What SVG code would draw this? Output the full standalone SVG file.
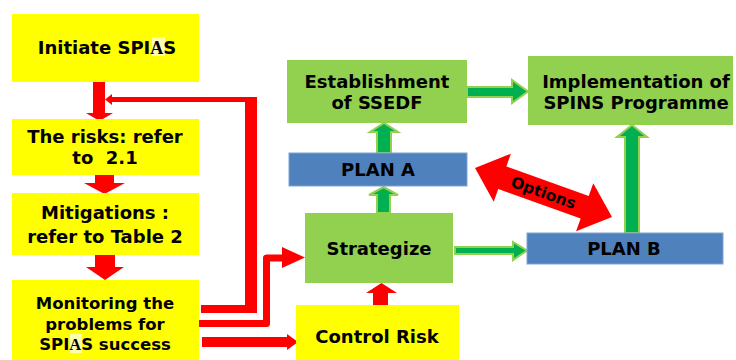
<svg xmlns="http://www.w3.org/2000/svg" width="736" height="360" viewBox="0 0 736 360">
  <style>
    text { font-family: "DejaVu Sans", Verdana, sans-serif; font-weight: bold; fill: #000; text-anchor: middle; }
    .yellow { fill: #FFFF00; }
    .green { fill: #92D050; }
    .blue { fill: #4F81BD; stroke: #7FA3D4; stroke-width: 1; }
    .red { fill: #FF0000; }
    .garrow { fill: #00B050; stroke: #92D050; stroke-width: 2; stroke-linejoin: miter; }
    .rline { fill: none; stroke: #FF0000; stroke-linejoin: round; }
    .serifA { font-family: "Liberation Serif", "Times New Roman", serif; font-weight: bold; }
    .hl { fill: #FFFFB0; }
  </style>

  <rect width="736" height="360" fill="#FFFFFF"/>

  <!-- connectors -->
  <g id="connectors">
    <!-- red flow arrows, left column -->
    <polygon class="red" points="93,81 105,81 105,113 113,113 99.5,121 86,113 93,113"/>
    <polygon class="red" points="95,175 114,175 114,183 125,183 104.5,194 84,183 95,183"/>
    <polygon class="red" points="95,255 115,255 115,267 124,267 105,280 86,267 95,267"/>

    <!-- feedback loop: Monitoring back to the first arrow -->
    <polygon class="red" points="201,305 245,305 245,102 112,102 112,105 105,99.5 112,94 112,97 257,97 257,313 201,313"/>

    <!-- Monitoring to Strategize -->
    <path class="rline" stroke-width="7" d="M198,323.5 H266.5 V258 H284"/>
    <polygon class="red" points="282,247 305,257.5 282,268"/>

    <!-- Monitoring to Control Risk -->
    <polygon class="red" points="202,337 287,337 287,334 298,342 287,350 287,347 202,347"/>

    <!-- Control Risk to Strategize -->
    <polygon class="red" points="373,305 388,305 388,293 397,293 381.5,283 366,293 373,293"/>

    <!-- green flow arrows -->
    <polygon class="garrow" points="377,213 390,213 390,195 398,195 383.5,187 369,195 377,195"/>
    <polygon class="garrow" points="377,153 391,153 391,132 398,132 384,123 370,132 377,132"/>
    <polygon class="garrow" points="467,87 512,87 512,80 528,91.5 512,103 512,97 467,97"/>
    <polygon class="garrow" points="455,247 513,247 513,242 527,250.5 513,260 513,254 455,254"/>
    <polygon class="garrow" points="625,233 639,233 639,137 647,137 632,125 617,137 625,137"/>

    <!-- Options double arrow -->
    <g transform="translate(543.5,192.5) rotate(19.7)">
      <polygon class="red" points="-72.75,0 -43.75,-25.5 -43.75,-12 43.75,-12 43.75,-25.5 72.75,0 43.75,25.5 43.75,12 -43.75,12 -43.75,25.5"/>
      <text x="0" y="5.5" font-size="15.5">Options</text>
    </g>
  </g>

  <!-- nodes -->
  <g id="initiate">
    <rect class="yellow" x="12" y="14" width="187" height="68"/>
    <rect class="hl" x="152" y="37" width="13" height="19"/>
    <text x="107" y="54" font-size="18">Initiate SPI<tspan class="serifA">A</tspan>S</text>
  </g>

  <g id="risks">
    <rect class="yellow" x="12" y="119" width="187" height="56"/>
    <text x="105" y="143" font-size="18">The risks: refer</text>
    <text x="105" y="164" font-size="18" xml:space="preserve">to  2.1</text>
  </g>

  <g id="mitigations">
    <rect class="yellow" x="12" y="193" width="187" height="62"/>
    <text x="105" y="219" font-size="18">Mitigations :</text>
    <text x="105" y="243" font-size="18">refer to Table 2</text>
  </g>

  <g id="monitoring">
    <rect class="yellow" x="12" y="280" width="187" height="80"/>
    <rect class="hl" x="70" y="334" width="12" height="19"/>
    <text x="105" y="309" font-size="16.5">Monitoring the</text>
    <text x="105" y="330" font-size="16.5">problems for</text>
    <text x="105" y="350" font-size="16.5">SPI<tspan class="serifA">A</tspan>S success</text>
  </g>

  <g id="control-risk">
    <rect class="yellow" x="296" y="305" width="163" height="55"/>
    <text x="377" y="343" font-size="18">Control Risk</text>
  </g>

  <g id="strategize">
    <rect class="green" x="305" y="213" width="148" height="70"/>
    <text x="379" y="255" font-size="18">Strategize</text>
  </g>

  <g id="plan-a">
    <rect class="blue" x="289" y="153" width="178" height="33"/>
    <text x="378" y="176" font-size="18">PLAN A</text>
  </g>

  <g id="plan-b">
    <rect class="blue" x="527" y="233" width="196" height="31"/>
    <text x="624" y="255" font-size="18">PLAN B</text>
  </g>

  <g id="establishment">
    <rect class="green" x="287" y="60" width="180" height="63"/>
    <text x="377" y="88" font-size="18">Establishment</text>
    <text x="377" y="109" font-size="18">of SSEDF</text>
  </g>

  <g id="implementation">
    <rect class="green" x="528" y="56" width="205" height="69"/>
    <text x="636" y="88" font-size="18">Implementation of</text>
    <text x="636" y="109" font-size="18">SPINS Programme</text>
  </g>
</svg>
